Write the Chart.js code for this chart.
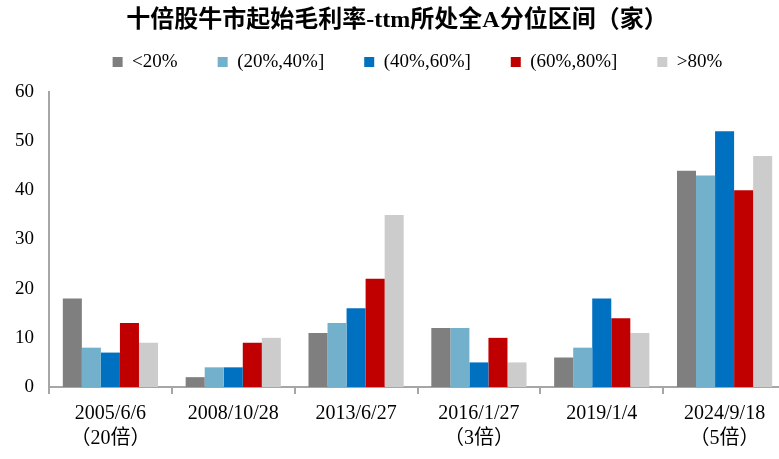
<!DOCTYPE html>
<html>
<head>
<meta charset="utf-8">
<script src="https://cdn.jsdelivr.net/npm/chart.js@4/dist/chart.umd.min.js"></script>
<style>
  html, body { margin: 0; background: #fff; overflow: hidden; }
  #wrap { width: 786px; height: 459px; }
</style>
</head>
<body>
<div id="wrap"><canvas id="myChart"></canvas></div>
<script>
/*--------DATOS-----------*/
var dates = [['2005/6/6', '（20倍）'], '2008/10/28', '2013/6/27', ['2016/1/27', '（3倍）'], '2019/1/4', ['2024/9/18', '（5倍）']];

var lt20 = [18, 2, 11, 12, 6, 44];
var p20_40 = [8, 4, 13, 12, 8, 43];
var p40_60 = [7, 4, 16, 5, 18, 52];
var p60_80 = [13, 9, 22, 10, 14, 40];
var gt80 = [9, 10, 35, 5, 11, 47];

var yTicks = [0, 10, 20, 30, 40, 50, 60];

var FONT = "'Liberation Serif', 'Noto Sans CJK SC', serif";

/* un poco mas de aire debajo de la leyenda */
var legendGap = {
  id: 'legendGap',
  beforeInit: function (chart) {
    var fit = chart.legend.fit;
    chart.legend.fit = function () {
      fit.call(this);
      this.height += 10.5;
    };
  }
};

var ctx = document.getElementById("myChart");
var myChart = new Chart(ctx, {
  type: 'bar',
  data: {
    labels: dates,
    datasets: [
      { label: "<20%", data: lt20, backgroundColor: "#7f7f7f" },
      { label: "(20%,40%]", data: p20_40, backgroundColor: "#72b0cc" },
      { label: "(40%,60%]", data: p40_60, backgroundColor: "#0070c0" },
      { label: "(60%,80%]", data: p60_80, backgroundColor: "#c00000" },
      { label: ">80%", data: gt80, backgroundColor: "#cccccc" }
    ]
  },
  plugins: [legendGap],
  options: {
    responsive: true,
    maintainAspectRatio: false,
    animation: false,
    datasets: { bar: { barPercentage: 1, categoryPercentage: 0.775 } },
    layout: { padding: { left: 8, right: 0, top: 0, bottom: 1 } },
    plugins: {
      title: {
        display: true,
        text: '十倍股牛市起始毛利率-ttm所处全A分位区间（家）',
        color: '#000',
        font: { family: FONT, size: 24, weight: 'bold', lineHeight: 1.2 },
        padding: { top: 6, bottom: -22.3 }
      },
      legend: {
        fullSize: false,
        labels: {
          color: '#000',
          font: { family: FONT, size: 19 },
          boxWidth: 10,
          boxHeight: 10,
          padding: 40
        }
      },
      tooltip: { enabled: false }
    },
    scales: {
      x: {
        grid: { display: true, drawOnChartArea: false, drawTicks: true, offset: true, tickLength: 7, color: '#a6a6a6', lineWidth: 2 },
        border: { color: '#a6a6a6', width: 2 },
        ticks: { color: '#000', font: { family: FONT, size: 20, lineHeight: 1.25 }, maxRotation: 0, padding: 7 }
      },
      y: {
        min: 0,
        max: 60,
        afterBuildTicks: function (axis) { axis.ticks = yTicks.map(function (v) { return { value: v }; }); },
        grid: { display: false },
        border: { color: '#a6a6a6', width: 2 },
        ticks: { color: '#000', font: { family: FONT, size: 19 }, padding: 7 }
      }
    }
  }
});
</script>
</body>
</html>
